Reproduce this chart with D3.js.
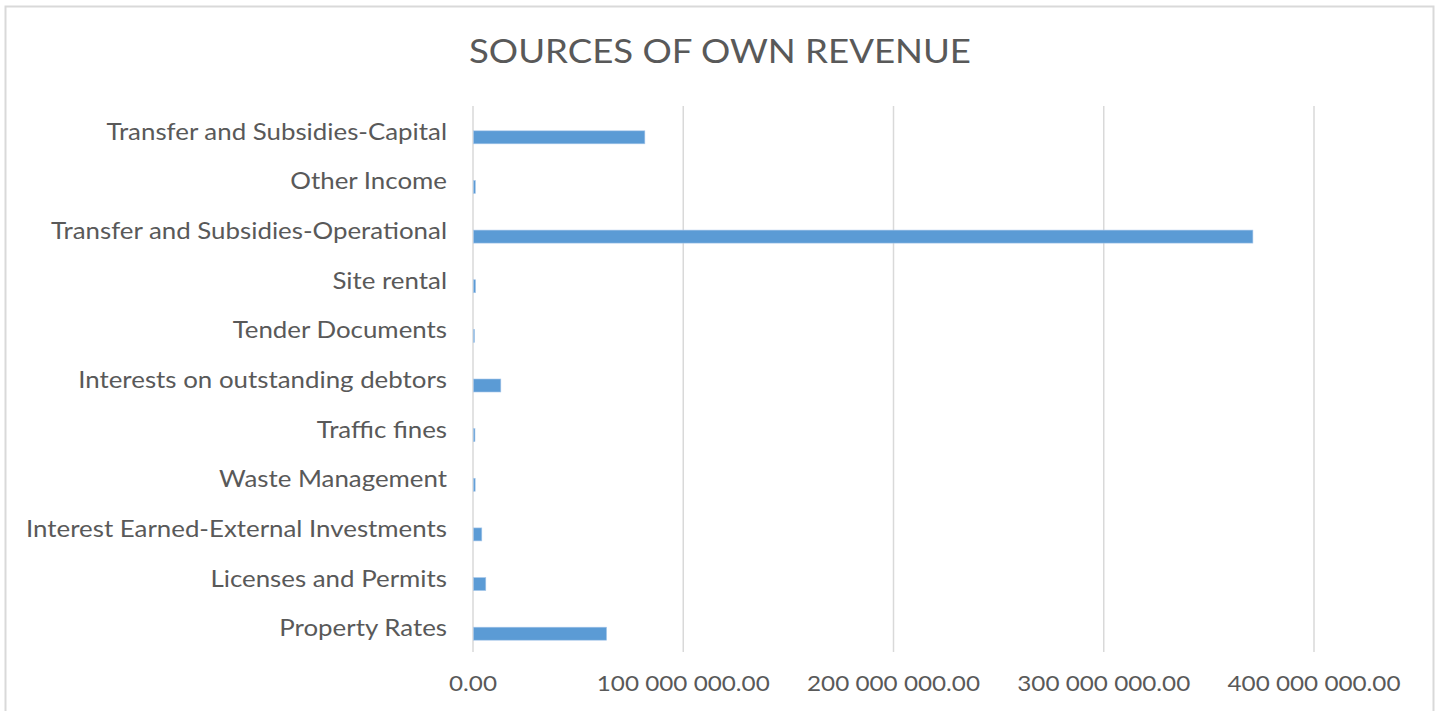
<!DOCTYPE html>
<html>
<head>
<meta charset="utf-8">
<script src="https://cdn.jsdelivr.net/npm/d3@7"></script>
<style>
  html, body { margin: 0; padding: 0; background: #fff; }
  svg { display: block; }
  text { font-family: Lato, "Open Sans", sans-serif; fill: #595959; }
</style>
</head>
<body>
<svg id="chart" width="1440" height="711"></svg>
<script>
const title = "SOURCES OF OWN REVENUE";
const categories = [
  "Transfer and Subsidies-Capital",
  "Other Income",
  "Transfer and Subsidies-Operational",
  "Site rental",
  "Tender Documents",
  "Interests on outstanding debtors",
  "Traffic fines",
  "Waste Management",
  "Interest Earned-External Investments",
  "Licenses and Permits",
  "Property Rates"
];
const values = [81500000, 900000, 370700000, 1000000, 500000, 13000000, 700000, 800000, 3950000, 5850000, 63300000];
const xTicks = [0, 100000000, 200000000, 300000000, 400000000];
const xMax = 400000000;

const svg = d3.select("#chart");
const W = 1440, H = 711;
const plot = { left: 473, right: 1314, top: 106, bottom: 652 };

// chart frame
svg.append("rect").attr("x", 5.5).attr("y", 6.5).attr("width", 1428).attr("height", 720)
  .attr("fill", "#fff").attr("stroke", "#d9d9d9").attr("stroke-width", 2);

const x = d3.scaleLinear().domain([0, xMax]).range([plot.left, plot.right]);
const y = d3.scaleBand().domain(categories).range([plot.top, plot.bottom]).paddingInner(0.476).paddingOuter(0.238);

const loc = d3.formatLocale({ decimal: ".", thousands: " ", grouping: [3], currency: ["", ""] });
const fmt = loc.format(",.2f");

// gridlines
svg.append("g").selectAll("line").data(xTicks).join("line")
  .attr("x1", d => x(d)).attr("x2", d => x(d))
  .attr("y1", plot.top).attr("y2", plot.bottom)
  .attr("stroke", "#d9d9d9").attr("stroke-width", 1.5);

// bars (visible series sits in lower half of each category cluster)
svg.append("g").selectAll("rect").data(categories).join("rect")
  .attr("x", x(0) + 0.5)
  .attr("y", d => y(d) + y.bandwidth() / 2)
  .attr("width", (d, i) => Math.max(0, x(values[i]) - x(0)))
  .attr("height", y.bandwidth() / 2)
  .attr("fill", "#5b9bd5")
  .attr("stroke", "#a9c8ea").attr("stroke-width", 0.6);

// category labels
function fitGroup(sel, targetWidth, refIndexFn) {
  let maxW = 0;
  sel.each(function () { maxW = Math.max(maxW, this.getComputedTextLength()); });
  return targetWidth / maxW;
}
const labelSize = 20;
const labels = svg.append("g").selectAll("text").data(categories).join("text")
  .attr("x", 447)
  .attr("y", d => y(d) + y.bandwidth() / 2)
  .attr("text-anchor", "end")
  .attr("dominant-baseline", "central")
  .attr("font-size", labelSize)
  .text(d => d);
let kL = fitGroup(labels, 421);
labels.attr("font-size", labelSize * Math.min(1.15, kL));
kL = fitGroup(labels, 421);
labels.each(function () {
  const w = this.getComputedTextLength();
  d3.select(this).attr("textLength", w * kL).attr("lengthAdjust", "spacingAndGlyphs");
});

// x tick labels
const tickLabels = svg.append("g").selectAll("text").data(xTicks).join("text")
  .attr("x", d => x(d))
  .attr("y", 691)
  .attr("text-anchor", "middle")
  .attr("font-size", 21)
  .text(d => fmt(d));
let kT = 173 / tickLabels.nodes()[1].getComputedTextLength();
tickLabels.each(function () {
  const w = this.getComputedTextLength();
  d3.select(this).attr("textLength", w * kT).attr("lengthAdjust", "spacingAndGlyphs");
});

// title
const t = svg.append("text").attr("x", 720).attr("y", 63).attr("text-anchor", "middle")
  .attr("font-size", 32).text(title);
const tw = t.node().getComputedTextLength();
t.attr("textLength", 502).attr("lengthAdjust", "spacingAndGlyphs");
</script>
</body>
</html>
